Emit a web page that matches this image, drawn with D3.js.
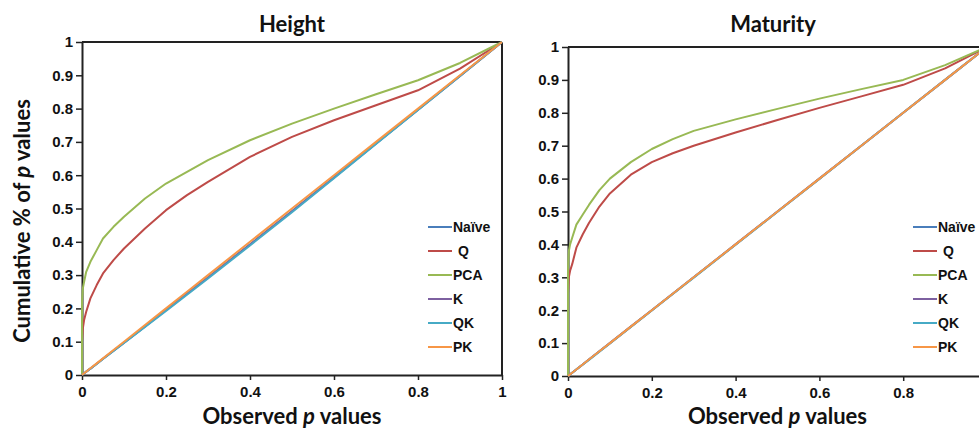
<!DOCTYPE html>
<html>
<head>
<meta charset="utf-8">
<script src="https://cdn.jsdelivr.net/npm/d3@7"></script>
<style>
  body { margin: 0; background: #fff; }
  svg { display: block; }
</style>
</head>
<body>
<div id="chart"></div>
<script>
// observed p values (x), first point is the origin of each curve
var obsP = [0, 0, 0.002, 0.005, 0.01, 0.02, 0.035, 0.05, 0.075, 0.1, 0.15, 0.2, 0.25, 0.3, 0.4, 0.5, 0.6, 0.7, 0.8, 0.9, 1];

var seriesNames = ["Naïve", "Q", "PCA", "K", "QK", "PK"];
var seriesColors = ["#4a7ebb", "#be4b48", "#98b954", "#7d60a0", "#46aac5", "#f79646"];

// Height panel
var heightNaive = [0, 0, 0.002, 0.005, 0.01, 0.019, 0.034, 0.049, 0.073, 0.097, 0.146, 0.195, 0.244, 0.293, 0.392, 0.492, 0.593, 0.695, 0.797, 0.898, 1];
var heightQ     = [0, 0.10, 0.14, 0.165, 0.19, 0.23, 0.27, 0.305, 0.345, 0.38, 0.44, 0.495, 0.54, 0.58, 0.655, 0.715, 0.765, 0.81, 0.855, 0.92, 1];
var heightPCA   = [0, 0.22, 0.26, 0.28, 0.31, 0.34, 0.375, 0.41, 0.445, 0.475, 0.53, 0.575, 0.61, 0.645, 0.705, 0.755, 0.80, 0.843, 0.885, 0.937, 1];
var heightK     = [0, 0, 0.002, 0.005, 0.01, 0.019, 0.034, 0.049, 0.073, 0.097, 0.146, 0.195, 0.244, 0.293, 0.392, 0.492, 0.593, 0.695, 0.797, 0.898, 1];
var heightQK    = [0, 0, 0.002, 0.005, 0.01, 0.019, 0.033, 0.048, 0.072, 0.096, 0.144, 0.192, 0.241, 0.290, 0.389, 0.489, 0.591, 0.694, 0.796, 0.898, 1];
var heightPK    = [0, 0, 0.002, 0.005, 0.01, 0.02, 0.035, 0.05, 0.075, 0.1, 0.15, 0.2, 0.25, 0.3, 0.4, 0.5, 0.6, 0.7, 0.8, 0.9, 1];

// Maturity panel
var maturityNaive = [0, 0, 0.002, 0.005, 0.01, 0.02, 0.035, 0.05, 0.075, 0.1, 0.15, 0.2, 0.25, 0.3, 0.4, 0.5, 0.6, 0.7, 0.8, 0.9, 1];
var maturityQ     = [0, 0.25, 0.30, 0.32, 0.34, 0.39, 0.43, 0.465, 0.515, 0.555, 0.612, 0.65, 0.677, 0.70, 0.74, 0.778, 0.815, 0.85, 0.885, 0.935, 1];
var maturityPCA   = [0, 0.33, 0.38, 0.40, 0.42, 0.46, 0.49, 0.52, 0.565, 0.60, 0.65, 0.69, 0.72, 0.745, 0.78, 0.812, 0.843, 0.872, 0.90, 0.945, 1];
var maturityK     = [0, 0, 0.002, 0.005, 0.01, 0.02, 0.035, 0.05, 0.075, 0.1, 0.15, 0.2, 0.25, 0.3, 0.4, 0.5, 0.6, 0.7, 0.8, 0.9, 1];
var maturityQK    = [0, 0, 0.002, 0.005, 0.01, 0.02, 0.034, 0.049, 0.074, 0.099, 0.149, 0.199, 0.249, 0.299, 0.399, 0.499, 0.599, 0.7, 0.8, 0.9, 1];
var maturityPK    = [0, 0, 0.002, 0.005, 0.01, 0.02, 0.035, 0.05, 0.075, 0.1, 0.15, 0.2, 0.25, 0.3, 0.4, 0.5, 0.6, 0.7, 0.8, 0.9, 1];

var yTicks = [0, 0.1, 0.2, 0.3, 0.4, 0.5, 0.6, 0.7, 0.8, 0.9, 1];
var xTicksHeight = [0, 0.2, 0.4, 0.6, 0.8, 1];
var xTicksMaturity = [0, 0.2, 0.4, 0.6, 0.8]; // the "1" falls past the right edge of the picture

var panels = [
  { title: "Height", left: 82, right: 502, top: 42, bottom: 375, border: true, xTicks: xTicksHeight,
    series: [heightNaive, heightQ, heightPCA, heightK, heightQK, heightPK], legendX: 428 },
  { title: "Maturity", left: 568, right: 987, top: 47, bottom: 376, border: false, xTicks: xTicksMaturity,
    series: [maturityNaive, maturityQ, maturityPCA, maturityK, maturityQK, maturityPK], legendX: 913 }
];

var svg = d3.select("#chart")
  .append("svg")
  .attr("width", 979)
  .attr("height", 430);

var fmt = d3.format("~g");
var labelFont = "Lato, 'Open Sans', sans-serif";

panels.forEach(function (p) {
  var x = d3.scaleLinear().domain([0, 1]).range([p.left, p.right]);
  var y = d3.scaleLinear().domain([0, 1]).range([p.bottom, p.top]);

  var g = svg.append("g");

  // top border line (and right border for the left panel)
  g.append("line")
    .attr("x1", x(0)).attr("x2", x(1))
    .attr("y1", y(1)).attr("y2", y(1))
    .attr("stroke", "#222").attr("stroke-width", 2);
  if (p.border) {
    g.append("line")
      .attr("x1", x(1)).attr("x2", x(1))
      .attr("y1", y(1)).attr("y2", y(0))
      .attr("stroke", "#222").attr("stroke-width", 2);
  }

  var yAxis = g.append("g")
    .attr("transform", "translate(" + x(0) + ",0)")
    .call(d3.axisLeft(y).tickValues(yTicks).tickFormat(fmt).tickSize(6).tickSizeOuter(0).tickPadding(3));

  var xAxis = g.append("g")
    .attr("transform", "translate(0," + y(0) + ")")
    .call(d3.axisBottom(x).tickValues(p.xTicks).tickFormat(fmt).tickSize(5).tickSizeOuter(0).tickPadding(6));

  [yAxis, xAxis].forEach(function (a) {
    a.select(".domain").attr("stroke", "#222").attr("stroke-width", 2);
    a.selectAll(".tick line").attr("stroke", "#222").attr("stroke-width", 1.5);
    a.selectAll(".tick text")
      .attr("fill", "#111")
      .style("font-family", "'Liberation Sans', Arial, sans-serif")
      .style("font-weight", "bold")
      .style("font-size", "15px");
  });

  // curves
  var line = d3.line()
    .x(function (d, i) { return x(obsP[i]); })
    .y(function (d) { return y(d); });

  p.series.forEach(function (s, i) {
    g.append("path")
      .datum(s)
      .attr("d", line)
      .attr("fill", "none")
      .attr("stroke", seriesColors[i])
      .attr("stroke-width", 2)
      .attr("stroke-linejoin", "round");
  });

  // title
  g.append("text")
    .attr("x", (p.left + (p.border ? p.right : 978)) / 2)
    .attr("y", 32)
    .attr("text-anchor", "middle")
    .style("font-family", labelFont)
    .style("font-weight", "bold")
    .style("font-size", "22px")
    .attr("fill", "#111")
    .text(p.title);

  // x axis title
  var xt = g.append("text")
    .attr("x", x(0.5))
    .attr("y", 424)
    .attr("text-anchor", "middle")
    .style("font-family", labelFont)
    .style("font-weight", "bold")
    .style("font-size", "22px")
    .attr("fill", "#111");
  xt.append("tspan").text("Observed ");
  xt.append("tspan").style("font-style", "italic").text("p");
  xt.append("tspan").text(" values");

  // legend
  var leg = g.append("g");
  seriesNames.forEach(function (name, i) {
    var ly = 227 + i * 24;
    leg.append("line")
      .attr("x1", p.legendX).attr("x2", p.legendX + 24)
      .attr("y1", ly).attr("y2", ly)
      .attr("stroke", seriesColors[i]).attr("stroke-width", 2);
    leg.append("text")
      .attr("x", p.legendX + 25 + (name === "Q" ? 5 : 0))
      .attr("y", ly)
      .attr("dy", "0.36em")
      .style("font-family", "'Liberation Sans', Arial, sans-serif")
      .style("font-weight", "bold")
      .style("font-size", "14px")
      .attr("fill", "#111")
      .text(name);
  });
});

// y axis title
var yt = svg.append("text")
  .attr("transform", "translate(30,221) rotate(-90)")
  .attr("text-anchor", "middle")
  .style("font-family", labelFont)
  .style("font-weight", "bold")
  .style("font-size", "22px")
  .attr("fill", "#111");
yt.append("tspan").text("Cumulative % of ");
yt.append("tspan").style("font-style", "italic").text("p");
yt.append("tspan").text(" values");
</script>
</body>
</html>
